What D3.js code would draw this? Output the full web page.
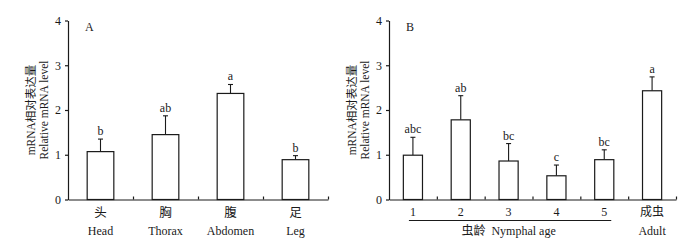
<!DOCTYPE html>
<html>
<head>
<meta charset="utf-8">
<script src="https://cdn.jsdelivr.net/npm/d3@7"></script>
<style>
  body { margin: 0; background: #fff; }
  svg { display: block; }
  text { font-family: "Liberation Serif", "Times New Roman", "Noto Sans CJK SC", serif; fill: #1a1a1a; }
</style>
</head>
<body>
<script>
// Panel A: tissues
const partsCn = ["头", "胸", "腹", "足"];
const partsEn = ["Head", "Thorax", "Abdomen", "Leg"];
const partsMean = [1.07, 1.45, 2.37, 0.89];
const partsErr = [0.28, 0.42, 0.20, 0.09];
const partsSig = ["b", "ab", "a", "b"];

// Panel B: developmental stages
const stages = ["1", "2", "3", "4", "5", "成虫"];
const stagesMean = [0.99, 1.78, 0.86, 0.53, 0.89, 2.43];
const stagesErr = [0.40, 0.54, 0.39, 0.24, 0.22, 0.31];
const stagesSig = ["abc", "ab", "bc", "c", "bc", "a"];

const yTicks = [0, 1, 2, 3, 4];

const WIDTH = 700, HEIGHT = 251;
const INK = "#1a1a1a";

const svg = d3.select("body").append("svg")
    .attr("width", WIDTH)
    .attr("height", HEIGHT);

// draws one panel, returns the x scale
function panel(opts) {
    let g = svg.append("g");

    let y = d3.scaleLinear().domain([0, 4]).range([199.5, 20.5]);
    let x = d3.scaleBand()
        .domain(opts.cats)
        .range([opts.x0, opts.x1])
        .paddingInner(opts.pad)
        .paddingOuter(opts.pad / 2);

    // y axis
    let yAxis = g.append("g")
        .attr("transform", "translate(" + opts.x0 + ",0)")
        .call(d3.axisLeft(y).tickValues(yTicks).tickSize(3).tickSizeOuter(0).tickPadding(4).tickFormat(d3.format("d")));
    yAxis.selectAll("path, line").attr("stroke", INK).attr("stroke-width", 1.2);
    yAxis.selectAll("text").attr("font-size", 12).attr("fill", INK)
        .style("font-family", "'Liberation Serif', serif");

    // x axis: small inward ticks at the category boundaries
    let edge = d3.scaleLinear().domain([0, opts.cats.length]).range([opts.x0, opts.x1]);
    let xAxis = g.append("g")
        .attr("transform", "translate(0," + y(0) + ")")
        .call(d3.axisBottom(edge).tickValues(d3.range(1, opts.cats.length + 1)).tickSize(-3).tickSizeOuter(0).tickFormat(""));
    xAxis.selectAll("path, line").attr("stroke", INK).attr("stroke-width", 1.2);

    // bars
    let data = opts.cats.map((c, i) => ({cat: c, mean: opts.mean[i], err: opts.err[i], sig: opts.sig[i]}));

    g.selectAll("line.err").data(data).enter().append("line")
        .attr("class", "err")
        .attr("x1", d => x(d.cat) + x.bandwidth() / 2)
        .attr("x2", d => x(d.cat) + x.bandwidth() / 2)
        .attr("y1", d => y(d.mean))
        .attr("y2", d => y(d.mean + d.err))
        .attr("stroke", INK).attr("stroke-width", 1.1);

    g.selectAll("line.cap").data(data).enter().append("line")
        .attr("class", "cap")
        .attr("x1", d => x(d.cat) + x.bandwidth() / 2 - 2.5)
        .attr("x2", d => x(d.cat) + x.bandwidth() / 2 + 2.5)
        .attr("y1", d => y(d.mean + d.err))
        .attr("y2", d => y(d.mean + d.err))
        .attr("stroke", INK).attr("stroke-width", 1.1);

    g.selectAll("rect.bar").data(data).enter().append("rect")
        .attr("class", "bar")
        .attr("x", d => x(d.cat))
        .attr("y", d => y(d.mean))
        .attr("width", x.bandwidth())
        .attr("height", d => y(0) - y(d.mean))
        .attr("fill", "#fff")
        .attr("stroke", INK).attr("stroke-width", 1.2);

    g.selectAll("text.sig").data(data).enter().append("text")
        .attr("class", "sig")
        .attr("x", d => x(d.cat) + x.bandwidth() / 2)
        .attr("y", d => y(d.mean + d.err) - 4)
        .attr("text-anchor", "middle")
        .attr("font-size", 12)
        .text(d => d.sig);

    // panel letter
    g.append("text")
        .attr("x", opts.x0 + 17)
        .attr("y", 30.5)
        .attr("font-size", 12)
        .text(opts.letter);

    // y labels
    let ymid = (y(0) + y(4)) / 2;
    g.append("text")
        .attr("transform", "translate(" + (opts.x0 - 33) + "," + ymid + ") rotate(-90)")
        .attr("text-anchor", "middle")
        .attr("font-size", 11.5)
        .text("mRNA相对表达量");
    g.append("text")
        .attr("transform", "translate(" + (opts.x0 - 20) + "," + ymid + ") rotate(-90)")
        .attr("text-anchor", "middle")
        .attr("font-size", 11.5)
        .text("Relative mRNA level");

    return {g: g, x: x, y: y};
}

// Panel A
let pA = panel({x0: 68, x1: 328, pad: 0.59, cats: partsCn, mean: partsMean, err: partsErr, sig: partsSig, letter: "A"});

pA.g.selectAll("text.cn").data(partsCn).enter().append("text")
    .attr("class", "cn")
    .attr("x", d => pA.x(d) + pA.x.bandwidth() / 2)
    .attr("y", 217)
    .attr("text-anchor", "middle")
    .attr("font-size", 12.5)
    .text(d => d);

pA.g.selectAll("text.en").data(partsEn).enter().append("text")
    .attr("class", "en")
    .attr("x", (d, i) => pA.x(partsCn[i]) + pA.x.bandwidth() / 2)
    .attr("y", 235)
    .attr("text-anchor", "middle")
    .attr("font-size", 12)
    .text(d => d);

// Panel B
let pB = panel({x0: 389, x1: 676, pad: 0.6, cats: stages, mean: stagesMean, err: stagesErr, sig: stagesSig, letter: "B"});

pB.g.selectAll("text.cn").data(stages).enter().append("text")
    .attr("class", "cn")
    .attr("x", d => pB.x(d) + pB.x.bandwidth() / 2)
    .attr("y", 216)
    .attr("text-anchor", "middle")
    .attr("font-size", 12)
    .text(d => d);

let c1 = pB.x("1") + pB.x.bandwidth() / 2,
    c5 = pB.x("5") + pB.x.bandwidth() / 2;

pB.g.append("line")
    .attr("x1", c1 - 4).attr("x2", c5 + 7)
    .attr("y1", 220.5).attr("y2", 220.5)
    .attr("stroke", INK).attr("stroke-width", 1.1);

pB.g.append("text")
    .attr("x", (c1 + c5) / 2)
    .attr("y", 235)
    .attr("text-anchor", "middle")
    .attr("font-size", 12)
    .attr("xml:space", "preserve")
    .style("white-space", "pre")
    .text("虫龄  Nymphal age");

pB.g.append("text")
    .attr("x", pB.x("成虫") + pB.x.bandwidth() / 2)
    .attr("y", 235)
    .attr("text-anchor", "middle")
    .attr("font-size", 12)
    .text("Adult");
</script>
</body>
</html>
